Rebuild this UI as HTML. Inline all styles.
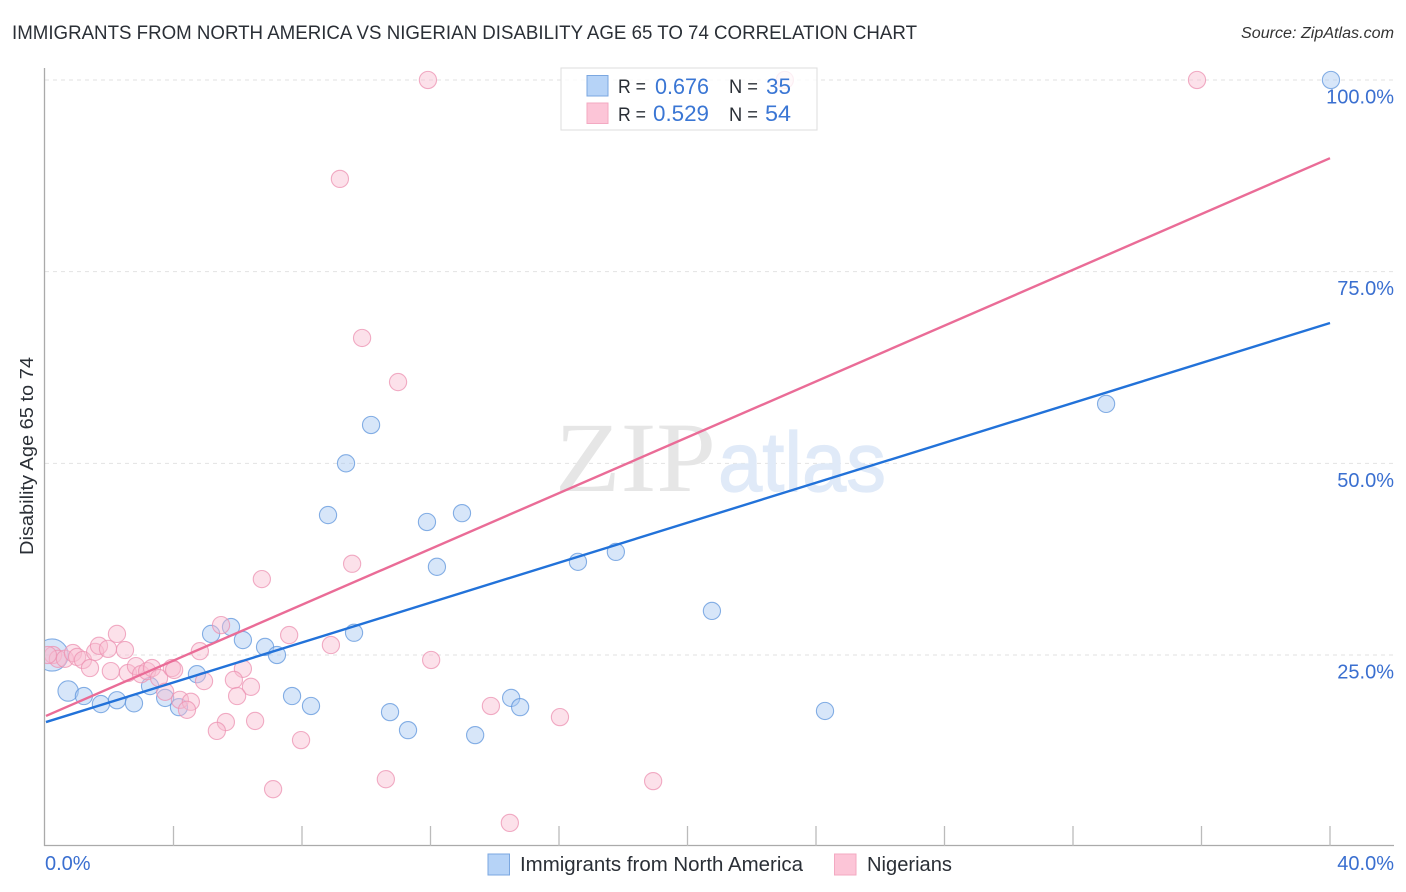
<!DOCTYPE html>
<html lang="en">
<head>
<meta charset="utf-8">
<title>Immigrants from North America vs Nigerian Disability Age 65 to 74 Correlation Chart</title>
<style>
html,body{margin:0;padding:0;background:#fff;width:1406px;height:892px;overflow:hidden}
svg{display:block;font-family:"Liberation Sans",sans-serif}
</style>
</head>
<body>
<svg id="chart" xmlns="http://www.w3.org/2000/svg" width="1406" height="892" viewBox="0 0 1406 892">
  <defs>
    <clipPath id="plot-clip"><rect x="45" y="60" width="1349" height="786"/></clipPath>
  </defs>
  <text x="12" y="39" font-size="19" fill="#2a2f36" textLength="905" lengthAdjust="spacingAndGlyphs">IMMIGRANTS FROM NORTH AMERICA VS NIGERIAN DISABILITY AGE 65 TO 74 CORRELATION CHART</text>
  <text x="1394" y="38" font-size="15.5" font-style="italic" fill="#333" text-anchor="end" textLength="153" lengthAdjust="spacingAndGlyphs">Source: ZipAtlas.com</text>
  <g id="grid"></g>
  <g>
    <text x="555" y="491" font-family="'Liberation Serif',serif" font-size="100" fill="#e6e6e6" textLength="161" lengthAdjust="spacingAndGlyphs">ZIP</text>
    <text x="718" y="491" font-size="84" fill="#e0eaf8" stroke="#e0eaf8" stroke-width="1.2" textLength="168" lengthAdjust="spacingAndGlyphs">atlas</text>
  </g>
  <g id="axes">
    <line x1="44.5" y1="68" x2="44.5" y2="846" stroke="#aaa" stroke-width="1.3"/>
    <line x1="44" y1="845.5" x2="1394" y2="845.5" stroke="#aaa" stroke-width="1.3"/>
  </g>
  <g id="points" clip-path="url(#plot-clip)"></g>
  <g id="lines"></g>
  <g id="tick-labels"></g>
  <text transform="translate(33,456) rotate(-90)" font-size="18.5" fill="#2a2f36" text-anchor="middle" textLength="198" lengthAdjust="spacingAndGlyphs">Disability Age 65 to 74</text>

  <g>
    <rect x="561" y="68" width="256" height="62" fill="#fff" fill-opacity="0.8" stroke="#ddd" stroke-width="1"/>
    <rect x="587" y="75.5" width="21" height="20.5" fill="#b6d3f7" stroke="#7ba7e0" stroke-width="1"/>
    <rect x="587" y="103" width="21" height="20.5" fill="#fcc5d7" stroke="#f3a9c2" stroke-width="1"/>
    <text x="618" y="93" font-size="19.5" fill="#2a2f36" textLength="28" lengthAdjust="spacingAndGlyphs">R =</text>
    <text x="655" y="94" font-size="22" fill="#3a76d4" textLength="54" lengthAdjust="spacingAndGlyphs">0.676</text>
    <text x="729" y="93" font-size="19.5" fill="#2a2f36" textLength="29" lengthAdjust="spacingAndGlyphs">N =</text>
    <text x="766" y="94" font-size="22" fill="#3a76d4" textLength="25" lengthAdjust="spacingAndGlyphs">35</text>
    <text x="618" y="121" font-size="19.5" fill="#2a2f36" textLength="28" lengthAdjust="spacingAndGlyphs">R =</text>
    <text x="653" y="121" font-size="22" fill="#3a76d4" textLength="56" lengthAdjust="spacingAndGlyphs">0.529</text>
    <text x="729" y="121" font-size="19.5" fill="#2a2f36" textLength="29" lengthAdjust="spacingAndGlyphs">N =</text>
    <text x="765" y="121" font-size="22" fill="#3a76d4" textLength="26" lengthAdjust="spacingAndGlyphs">54</text>
  </g>

  <g>
    <rect x="488" y="854" width="21.5" height="21" fill="#b6d3f7" stroke="#7ba7e0" stroke-width="1"/>
    <text x="520" y="871" font-size="20" fill="#2a2f36" textLength="283" lengthAdjust="spacingAndGlyphs">Immigrants from North America</text>
    <rect x="834.5" y="854" width="21.5" height="21" fill="#fcc5d7" stroke="#f3a9c2" stroke-width="1"/>
    <text x="867" y="871" font-size="20" fill="#2a2f36" textLength="85" lengthAdjust="spacingAndGlyphs">Nigerians</text>
  </g>
</svg>
<script>
const yTickValues = [25, 50, 75, 100];
const yTickLabels = ["25.0%", "50.0%", "75.0%", "100.0%"];
const xTickValues = [0, 4, 8, 12, 16, 20, 24, 28, 32, 36, 40];
const xEndValues = [0, 40];
const xEndLabels = ["0.0%", "40.0%"];

const blueX = [0.22,0.72,1.21,1.74,2.24,2.77,3.27,3.74,4.17,4.73,5.17,5.79,6.16,6.85,7.22,7.69,8.28,8.81,9.37,9.62,10.15,10.74,11.3,11.89,12.2,12.98,13.39,14.51,14.79,16.59,17.77,20.76,24.28,33.03,40.03];
const blueY = [25,20.3,19.65,18.6,19.1,18.7,20.95,19.4,18.2,22.5,27.75,28.65,26.95,26.05,25,19.65,18.35,43.25,50,27.9,55,17.55,15.2,42.35,36.5,43.5,14.55,19.4,18.2,37.15,38.45,30.75,17.7,57.75,100];
const blueWeight = [3.5,1.4,1,1,1,1,1,1,1,1,1,1,1,1,1,1,1,1,1,1,1,1,1,1,1,1,1,1,1,1,1,1,1,1,1];

const pinkX = [0.25,0.4,0.62,0.87,1,1.18,1.4,1.56,1.68,1.96,2.24,2.49,2.05,2.58,2.83,2.99,3.18,3.33,3.55,3.74,3.95,4.02,4.2,4.54,4.42,4.82,4.95,5.48,7.6,6.16,5.88,6.41,5.98,5.63,5.35,6.54,7.1,7.97,6.75,8.9,9.56,9.87,9.18,10.99,11.92,12.02,10.61,13.88,14.47,16.03,18.93,35.86,23.03,0.09];
const pinkY = [25,24.5,24.5,25.25,24.75,24.35,23.3,25.4,26.2,25.8,27.75,25.65,22.9,22.65,23.55,22.5,22.9,23.3,22,20.2,23.3,23.05,19.15,18.9,17.85,25.5,21.6,28.9,27.6,23.2,21.75,20.85,19.65,16.25,15.1,16.4,7.5,13.9,34.9,26.3,36.9,66.35,87.1,60.6,100,24.35,8.8,18.35,3.1,16.9,8.55,100,100,25];

const lineXRange = [0.03, 40];
const blueLineY = [16.25, 68.3];
const pinkLineY = [17.05, 89.8];

const NS = "http://www.w3.org/2000/svg";
function xScale(v) { return 45 + v * 32.125; }
function yScale(v) { return 846.67 - v * 7.667; }
function make(tag, attrs, parent) {
  const el = document.createElementNS(NS, tag);
  for (const k in attrs) el.setAttribute(k, attrs[k]);
  parent.appendChild(el);
  return el;
}

const gridG = document.getElementById("grid");
const axesG = document.getElementById("axes");
const labelsG = document.getElementById("tick-labels");
const pointsG = document.getElementById("points");
const linesG = document.getElementById("lines");

yTickValues.forEach(function (v, i) {
  const gl = make("line", {x1: 45, x2: 1394, y1: yScale(v), y2: yScale(v), stroke: "#e2e2e2", "stroke-width": 1, "stroke-dasharray": "4 4"}, gridG);
  
  
  const t = make("text", {x: 1394, y: yScale(v) + 23.5, "font-size": 20, fill: "#3a6fd0", "text-anchor": "end"}, labelsG);
  t.textContent = yTickLabels[i];
  
  
});

xTickValues.forEach(function (v) {
  if (v === 0) return;
  const tk = make("line", {x1: xScale(v), x2: xScale(v), y1: 826, y2: 846, stroke: "#bbb", "stroke-width": 1.3}, axesG);
  
  
});

xEndValues.forEach(function (v, i) {
  const t = make("text", {x: i === 0 ? xScale(v) : 1394, y: 870, "font-size": 20, fill: "#3a6fd0", "text-anchor": i === 0 ? "start" : "end"}, labelsG);
  t.textContent = xEndLabels[i];
  
  
});

blueX.forEach(function (v, i) {
  const c = make("circle", {cx: xScale(v), cy: yScale(blueY[i]), r: 8.6 * Math.sqrt(blueWeight[i]), fill: "#a6c8f2", "fill-opacity": 0.45, stroke: "#5f96dc", "stroke-opacity": 0.75, "stroke-width": 1.1}, pointsG);
  
  
});

pinkX.forEach(function (v, i) {
  const c = make("circle", {cx: xScale(v), cy: yScale(pinkY[i]), r: 8.6, fill: "#f9bdd0", "fill-opacity": 0.45, stroke: "#ec92b1", "stroke-opacity": 0.75, "stroke-width": 1.1}, pointsG);
  
  
});

const blueTrend = make("line", {x1: xScale(lineXRange[0]), y1: yScale(blueLineY[0]), x2: xScale(lineXRange[1]), y2: yScale(blueLineY[1]), stroke: "#2272d9", "stroke-width": 2.4}, linesG);



const pinkTrend = make("line", {x1: xScale(lineXRange[0]), y1: yScale(pinkLineY[0]), x2: xScale(lineXRange[1]), y2: yScale(pinkLineY[1]), stroke: "#ea6c97", "stroke-width": 2.4}, linesG);


</script>
</body>
</html>
